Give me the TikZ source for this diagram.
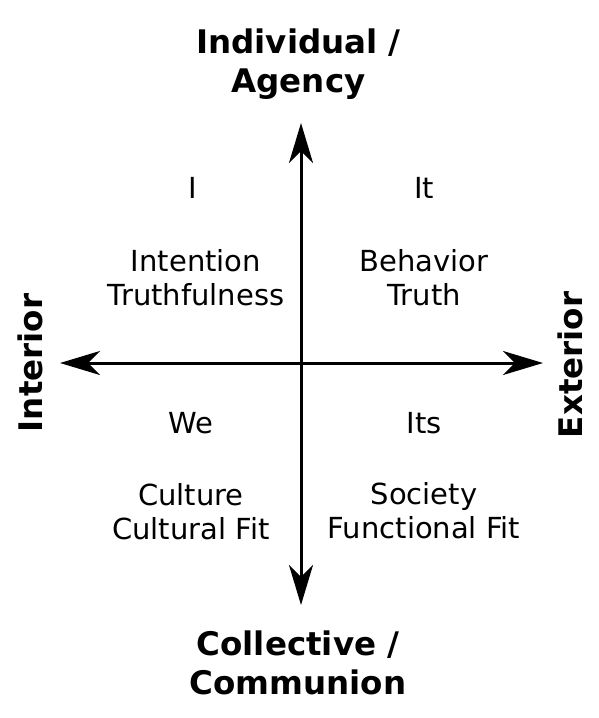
\documentclass[tikz,border=0pt]{standalone}
\usepackage{fontspec}
\setmainfont{DejaVu Sans}
\usetikzlibrary{arrows.meta}
\begin{document}
\begin{tikzpicture}[x=1pt,y=-1pt,
  axisline/.style={line width=3pt, {Stealth[length=40pt,width=24pt,inset=12pt]}-{Stealth[length=40pt,width=24pt,inset=12pt]}},
  quad/.style={inner sep=0pt, align=center, font=\fontsize{29}{34}\selectfont},
  pole/.style={inner sep=0pt, align=center, font=\fontsize{32.5}{38.5}\selectfont\bfseries}]
\useasboundingbox (0,0) rectangle (599,718);
\coordinate (W) at (60,363);
\coordinate (E) at (543,363);
\coordinate (N) at (301,123);
\coordinate (S) at (301,605);
\draw[axisline] (W) -- (E);
\draw[axisline] (N) -- (S);
\node[pole] (top) at (298.5,64) {Individual /\\Agency};
\node[pole] (bottom) at (298,663) {Collective /\\Communion};
\node[pole, rotate=90, anchor=base] (left) at (42,363) {Interior};
\node[pole, rotate=90, anchor=base] (right) at (582,365) {Exterior};
\node[quad, anchor=base] (qI) at (193,198) {I};
\node[quad, anchor=base] (qIt) at (424,198) {It};
\node[quad, anchor=base] (qWe) at (191,433) {We};
\node[quad, anchor=base] (qIts) at (424,433) {Its};
\node[quad] (ul) at (196,278) {Intention\\Truthfulness};
\node[quad] (ur) at (424,278) {Behavior\\Truth};
\node[quad] (ll) at (191,512) {Culture\\Cultural Fit};
\node[quad] (lr) at (424,511) {Society\\Functional Fit};
\end{tikzpicture}
\end{document}
